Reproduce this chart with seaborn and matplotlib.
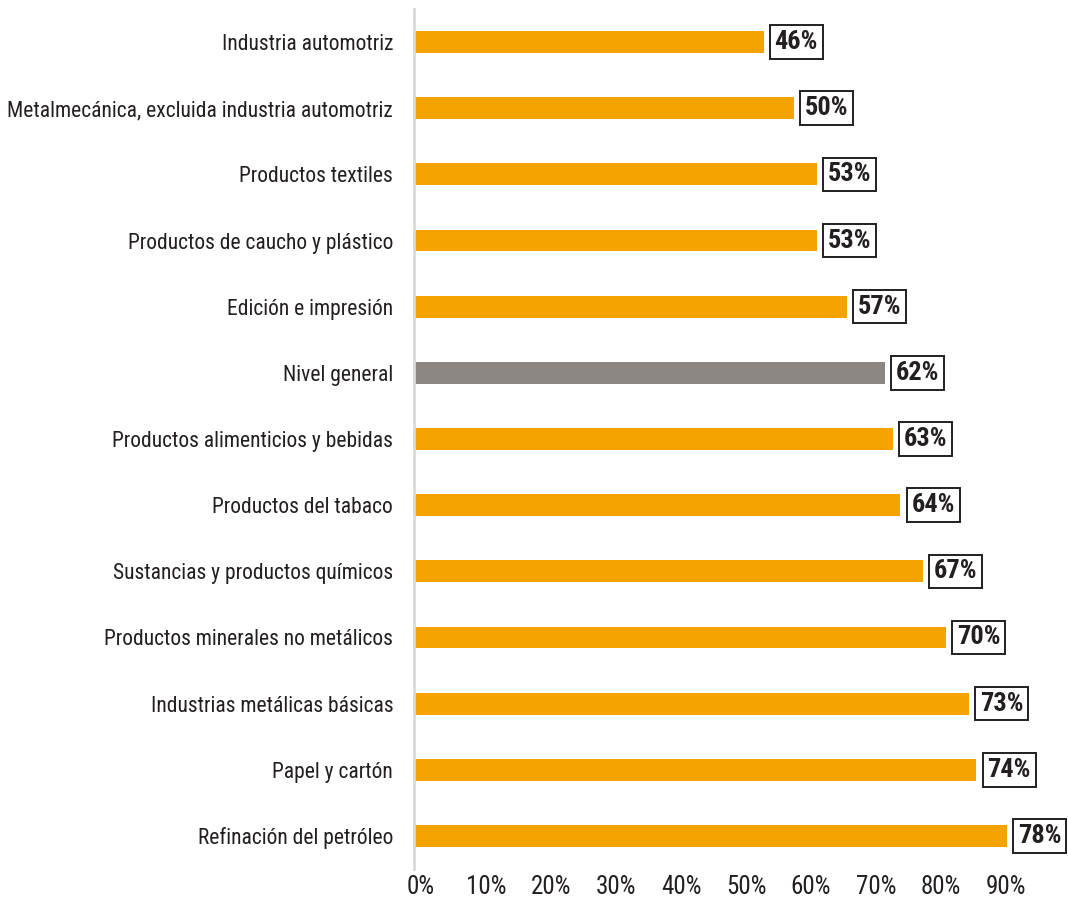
import matplotlib
matplotlib.use("Agg")
import matplotlib.pyplot as plt
import pandas as pd
import seaborn as sns

categories = [
    "Industria automotriz",
    "Metalmecánica, excluida industria automotriz",
    "Productos textiles",
    "Productos de caucho y plástico",
    "Edición e impresión",
    "Nivel general",
    "Productos alimenticios y bebidas",
    "Productos del tabaco",
    "Sustancias y productos químicos",
    "Productos minerales no metálicos",
    "Industrias metálicas básicas",
    "Papel y cartón",
    "Refinación del petróleo",
]
values = [46, 50, 53, 53, 57, 62, 63, 64, 67, 70, 73, 74, 78]
tick_values = [0, 10, 20, 30, 40, 50, 60, 70, 80, 90]
highlight = "Nivel general"

ORANGE = "#F4A300"
GREY = "#8B8682"
TEXT = "#231F20"

sns.set_style("white")
plt.rcParams["font.family"] = ["Roboto Condensed", "Open Sans Condensed", "DejaVu Sans"]
plt.rcParams["font.stretch"] = "condensed"

df = pd.DataFrame({"sector": categories, "value": values})
df["group"] = ["general" if c == highlight else "sector" for c in categories]

fig = plt.figure(figsize=(10.68, 8.97), dpi=100)
ax = fig.add_axes([414 / 1068, 28 / 897, 1 - 414 / 1068, 860 / 897])

sns.barplot(
    data=df, y="sector", x="value", hue="group", orient="h",
    palette={"sector": ORANGE, "general": GREY}, width=0.33, saturation=1,
    dodge=False, legend=False, ax=ax,
)
for p in ax.patches:
    p.set_linewidth(0)

ax.set_xlim(0, (1068 - 414) / 7.6)
ax.set_ylim(12.5, -0.5)

# value labels, boxed
for i, v in enumerate(values):
    ax.text(v + 1.45, i, f"{v}%", va="center", ha="left", fontsize=19,
            fontweight="bold", color=TEXT,
            bbox=dict(boxstyle="square,pad=0.18", fc="white", ec=TEXT, lw=1.4))

# the printed axis scale in the source is not the same as the bar scale
ax.set_xticks([(6.5 * t + 7) / 7.6 for t in tick_values])
ax.set_xticklabels([f"{t}%" for t in tick_values], fontsize=18, color=TEXT)
ax.tick_params(axis="x", length=0, pad=4)
ax.tick_params(axis="y", length=0, pad=15, labelsize=15.5, labelcolor=TEXT)
ax.set_xlabel("")
ax.set_ylabel("")

sns.despine(ax=ax, top=True, right=True, bottom=True, left=False)
ax.spines["left"].set_color("#D9D9D9")
ax.spines["left"].set_linewidth(2)

fig.savefig("out.png", dpi=100)
